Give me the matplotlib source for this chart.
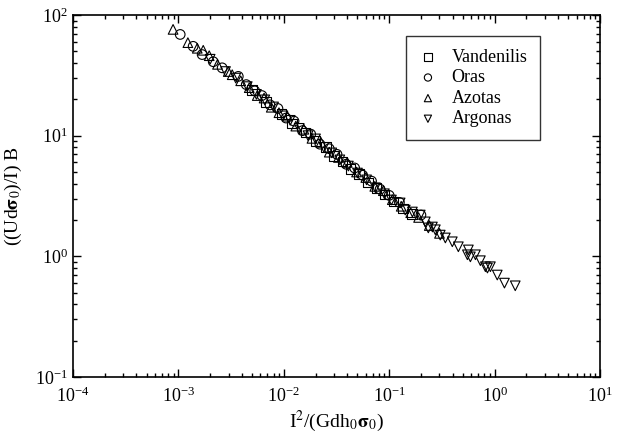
import matplotlib
matplotlib.use("Agg")
import matplotlib.pyplot as plt
from matplotlib.ticker import LogLocator, NullFormatter

plt.rcParams['font.family'] = ['Liberation Serif', 'DejaVu Serif']
plt.rcParams['mathtext.fontset'] = 'stix'
plt.rcParams['axes.unicode_minus'] = False

# Vandenilis (squares)
van_x = [5.0e-3, 6.8e-3, 9.5e-3, 1.2e-2, 1.6e-2, 2.0e-2, 2.5e-2, 3.0e-2, 3.6e-2,
         4.3e-2, 5.2e-2, 6.3e-2, 7.6e-2, 9.0e-2, 0.11, 0.135, 0.165]
van_y = [24, 19, 15.2, 12.6, 10.6, 9.0, 8.1, 6.8, 6.1,
         5.3, 4.8, 4.1, 3.7, 3.25, 2.85, 2.5, 2.25]

# Oras (circles)
ora_x = [1.04e-3, 1.38e-3, 1.68e-3, 2.14e-3, 2.6e-3, 3.7e-3, 4.4e-3, 5.3e-3, 6.2e-3,
         7.4e-3, 8.8e-3, 1.05e-2, 1.25e-2, 1.5e-2, 1.8e-2, 2.2e-2, 2.7e-2, 3.2e-2,
         3.9e-2, 4.7e-2, 5.6e-2, 6.8e-2, 8.2e-2, 0.1, 0.125, 0.2]
ora_y = [69, 55, 47, 41, 36.5, 31, 26.5, 23.5, 21.5,
         18.0, 16.8, 14.0, 13.2, 11.0, 10.3, 8.5, 7.8, 7.0,
         5.8, 5.4, 4.7, 4.2, 3.6, 3.2, 2.8, 2.2]

# Azotas (up triangles)
azo_x = [8.9e-4, 1.23e-3, 1.51e-3, 1.72e-3, 1.96e-3, 2.35e-3, 2.97e-3, 3.24e-3, 3.9e-3,
         4.7e-3, 5.6e-3, 6.5e-3, 7.6e-3, 9.0e-3, 1.08e-2, 1.3e-2, 1.55e-2, 1.85e-2,
         2.25e-2, 2.7e-2, 3.3e-2, 4.0e-2, 4.9e-2, 6.0e-2, 7.3e-2, 8.8e-2, 0.107,
         0.13, 0.16, 0.19, 0.24, 0.3]
azo_y = [76, 59, 53, 51, 46, 39, 34, 32, 28.5,
         25, 21.5, 20.5, 17.2, 15.5, 14.5, 12.0, 11.3, 9.5,
         8.8, 7.3, 6.6, 6.0, 5.0, 4.5, 3.8, 3.5, 2.95,
         2.6, 2.3, 2.1, 1.8, 1.55]

# Argonas (down triangles)
arg_x = [2.0e-3, 2.8e-3, 3.5e-3, 4.5e-3, 5.5e-3, 6.6e-3, 8.0e-3, 9.8e-3, 1.15e-2,
         1.4e-2, 1.7e-2, 2.0e-2, 2.4e-2, 2.85e-2, 3.4e-2, 4.1e-2, 5.0e-2, 6.1e-2,
         7.4e-2, 9.0e-2, 0.105, 0.127, 0.142, 0.166, 0.197, 0.22, 0.235, 0.257,
         0.274, 0.305, 0.341, 0.397, 0.453, 0.552, 0.564, 0.589, 0.658, 0.733,
         0.818, 0.855, 0.912, 1.06, 1.24, 1.57]
arg_y = [43, 34, 30, 25.5, 22, 19.8, 17.3, 14.6, 13.4,
         11.5, 10.0, 9.4, 8.0, 7.2, 6.3, 5.6, 4.9, 4.3,
         3.7, 3.3, 2.93, 2.77, 2.42, 2.33, 2.2, 1.93, 1.72, 1.75,
         1.66, 1.50, 1.42, 1.32, 1.20, 1.03, 1.13, 0.99, 1.03, 0.92,
         0.82, 0.80, 0.82, 0.70, 0.60, 0.57]

labels = ['Vandenilis', 'Oras', 'Azotas', 'Argonas']

fig = plt.figure(figsize=(6.25, 4.36), dpi=100)
ax = fig.add_axes([0.1168, 0.1353, 0.8432, 0.8303])

kw = dict(facecolor='none', edgecolor='black', linewidths=0.8, s=48)
ax.scatter(van_x, van_y, marker='s', label=labels[0], **kw)
ax.scatter(ora_x, ora_y, marker='o', label=labels[1], **kw)
ax.scatter(azo_x, azo_y, marker='^', label=labels[2], **kw)
ax.scatter(arg_x, arg_y, marker='v', label=labels[3], **kw)

ax.set_xscale('log')
ax.set_yscale('log')
ax.set_xlim(1e-4, 1e1)
ax.set_ylim(1e-1, 1e2)

for a in (ax.xaxis, ax.yaxis):
    a.set_major_locator(LogLocator(base=10, numticks=20))
    a.set_minor_locator(LogLocator(base=10, subs=range(2, 10), numticks=20))
    a.set_minor_formatter(NullFormatter())
ax.tick_params(which='both', direction='in', top=True, right=True, labelsize=13, width=1)
ax.tick_params(which='major', length=6)
ax.tick_params(which='minor', length=3)
ax.tick_params(axis='x', pad=7)
for s in ax.spines.values():
    s.set_linewidth(1.2)

ax.set_xlabel(r'I$^{2}$/(Gdh$_{0}$$\mathbf{\sigma}_{0}$)', fontsize=14, labelpad=2)
ax.set_ylabel(r'((Ud$\mathbf{\sigma}_{0}$)/I) B', fontsize=14, labelpad=8)

leg = ax.legend(loc='upper right', bbox_to_anchor=(0.886, 0.942), frameon=True, fancybox=False,
                edgecolor='black', fontsize=13, handlelength=1.0, handletextpad=0.8,
                borderpad=0.7, labelspacing=0.2, markerscale=0.75, borderaxespad=0)
leg.get_frame().set_linewidth(1.0)

fig.savefig('out.png', dpi=100)
